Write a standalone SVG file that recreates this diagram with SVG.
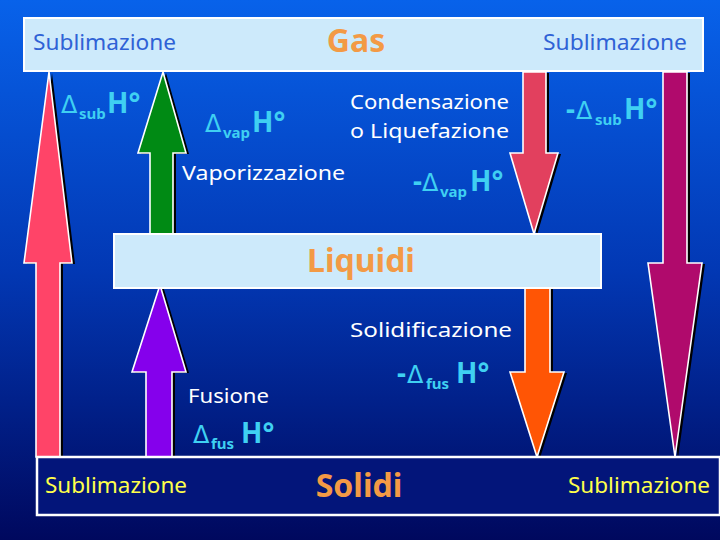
<svg xmlns="http://www.w3.org/2000/svg" width="720" height="540" viewBox="0 0 720 540">
<defs>
<linearGradient id="bg" x1="0" y1="0" x2="0" y2="1">
<stop offset="0" stop-color="#0862ea"/>
<stop offset="0.5" stop-color="#0238b4"/>
<stop offset="1" stop-color="#00085e"/>
</linearGradient>
<style>
text{font-family:"Noto Sans","DejaVu Sans",sans-serif}
.box{fill:#cdeafb;stroke:#ffffff;stroke-width:2}
.dark{fill:#03157a;stroke:#ffffff;stroke-width:2.5}
.title{fill:#f39a45;font-weight:bold;font-size:32px}
.blue{fill:#2f62d6;font-size:21px}
.yel{fill:#ffff4a;font-size:21px}
.wh{fill:#ffffff;font-size:20px}
.dh{fill:#3fd0f2}
.dl{font-size:24px;font-family:"DejaVu Sans",sans-serif;font-weight:normal}
.sb{font-size:15px;font-weight:bold}
.hh{font-size:28px;font-weight:bold}
.arr{stroke:#ffffff;stroke-width:1.6;stroke-linejoin:miter}
.sh{fill:#000000}
</style>
</defs>
<rect x="0" y="0" width="720" height="540" fill="url(#bg)"/>

<g id="connectors">
<g id="sub-left">
<path class="sh" transform="translate(3,1)" d="M49,72 L72,263 L60,263 L60,457 L36,457 L36,263 L24,263 Z"/>
<path class="arr" fill="#ff4468" d="M49,72 L72,263 L60,263 L60,457 L36,457 L36,263 L24,263 Z"/>
</g>
<g id="vap">
<path class="sh" transform="translate(3,1)" d="M163,72 L186,153 L173,153 L173,234 L150,234 L150,153 L138,153 Z"/>
<path class="arr" fill="#008a14" d="M163,72 L186,153 L173,153 L173,234 L150,234 L150,153 L138,153 Z"/>
</g>
<g id="cond">
<path class="sh" transform="translate(3,1)" d="M523,72 L546,72 L546,153 L558,153 L534,234 L510,153 L523,153 Z"/>
<path class="arr" fill="#e2405e" d="M523,72 L546,72 L546,153 L558,153 L534,234 L510,153 L523,153 Z"/>
</g>
<g id="sub-right">
<path class="sh" transform="translate(3,1)" d="M663,72 L687,72 L687,263 L702,263 L675,457 L648,263 L663,263 Z"/>
<path class="arr" fill="#b00a6c" d="M663,72 L687,72 L687,263 L702,263 L675,457 L648,263 L663,263 Z"/>
</g>
<g id="fus">
<path class="sh" transform="translate(3,1)" d="M160,285 L186,372 L172,372 L172,457 L146,457 L146,372 L132,372 Z"/>
<path class="arr" fill="#8500ec" d="M160,285 L186,372 L172,372 L172,457 L146,457 L146,372 L132,372 Z"/>
</g>
<g id="solid">
<path class="sh" transform="translate(3,1)" d="M525,288 L550,288 L550,372 L564,372 L537,457 L510,372 L525,372 Z"/>
<path class="arr" fill="#ff5505" d="M525,288 L550,288 L550,372 L564,372 L537,457 L510,372 L525,372 Z"/>
</g>
</g>

<g id="gas">
<rect class="box" x="24" y="18" width="679" height="53"/>
<text class="title" x="356" y="52" text-anchor="middle">Gas</text>
<text class="blue" x="33" y="50" textLength="143" lengthAdjust="spacingAndGlyphs">Sublimazione</text>
<text class="blue" x="543" y="50" textLength="144" lengthAdjust="spacingAndGlyphs">Sublimazione</text>
</g>

<g id="liquidi">
<rect class="box" x="114" y="234" width="487" height="54"/>
<text class="title" x="361" y="272" text-anchor="middle">Liquidi</text>
</g>

<g id="solidi">
<rect class="dark" x="37" y="457" width="683" height="58"/>
<text class="title" x="359" y="497" text-anchor="middle">Solidi</text>
<text class="yel" x="45" y="493" textLength="142" lengthAdjust="spacingAndGlyphs">Sublimazione</text>
<text class="yel" x="568" y="493" textLength="142" lengthAdjust="spacingAndGlyphs">Sublimazione</text>
</g>

<g id="labels">
<text class="wh" x="350" y="109" textLength="159" lengthAdjust="spacingAndGlyphs">Condensazione</text>
<text class="wh" x="350" y="138" textLength="159" lengthAdjust="spacingAndGlyphs">o Liquefazione</text>
<text class="wh" x="182" y="180" textLength="163" lengthAdjust="spacingAndGlyphs">Vaporizzazione</text>
<text class="wh" x="350" y="337" textLength="162" lengthAdjust="spacingAndGlyphs">Solidificazione</text>
<text class="wh" x="188" y="403" textLength="81" lengthAdjust="spacingAndGlyphs">Fusione</text>

<text class="dh"><tspan class="dl" x="61" y="113">Δ</tspan><tspan class="sb" x="79" y="119">sub</tspan><tspan class="hh" x="107" y="113">H°</tspan></text>
<text class="dh"><tspan class="dl" x="205" y="132">Δ</tspan><tspan class="sb" x="223" y="138">vap</tspan><tspan class="hh" x="252" y="132">H°</tspan></text>
<text class="dh"><tspan class="hh" x="413" y="191">-</tspan><tspan class="dl" x="422" y="191">Δ</tspan><tspan class="sb" x="440" y="197">vap</tspan><tspan class="hh" x="470" y="191">H°</tspan></text>
<text class="dh"><tspan class="hh" x="566" y="119">-</tspan><tspan class="dl" x="576" y="119">Δ</tspan><tspan class="sb" x="595" y="125">sub</tspan><tspan class="hh" x="624" y="119">H°</tspan></text>
<text class="dh"><tspan class="hh" x="397" y="383">-</tspan><tspan class="dl" x="407" y="383">Δ</tspan><tspan class="sb" x="426" y="389">fus</tspan><tspan class="hh" x="456" y="383">H°</tspan></text>
<text class="dh"><tspan class="dl" x="193" y="443">Δ</tspan><tspan class="sb" x="211" y="449">fus</tspan><tspan class="hh" x="241" y="443">H°</tspan></text>
</g>
</svg>
